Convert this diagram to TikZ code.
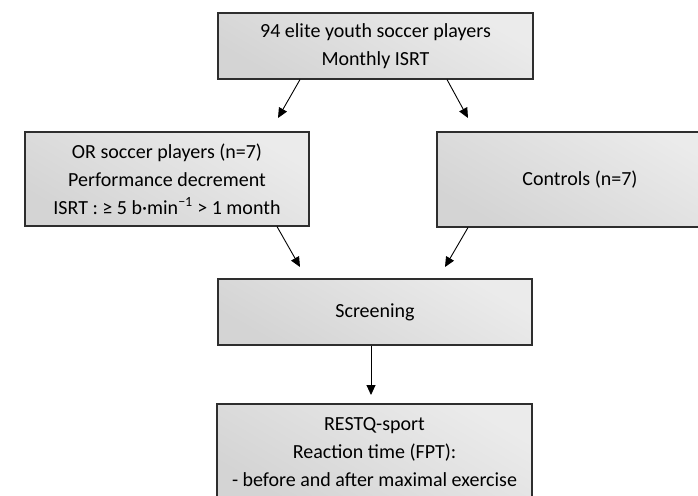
\documentclass[tikz,border=0pt]{standalone}
\usepackage{fontspec}
\setmainfont{Carlito}
\usetikzlibrary{arrows.meta}
\definecolor{boxdark}{HTML}{D4D4D4}
\definecolor{boxlight}{HTML}{EBEBEB}
\definecolor{boxline}{HTML}{2E2E2E}
\tikzset{
  flowbox/.style={draw=boxline, line width=1.1pt, bottom color=boxdark, top color=boxlight, shading angle=-30,
    align=center, inner sep=0pt, font=\fontsize{20}{28}\selectfont},
  arr/.style={-{Triangle[length=10pt,width=9pt]}, line width=0.9pt, black}
}
\begin{document}
\begin{tikzpicture}[x=1pt,y=1pt]
\useasboundingbox (0,0) rectangle (698,-495);
\node[flowbox, minimum width=315pt, minimum height=66pt] (top) at (375.5,-46) {94 elite youth soccer players\\Monthly ISRT};
\node[flowbox, minimum width=284pt, minimum height=94pt] (left) at (167,-179) {OR soccer players (n=7)\\Performance decrement\\ISRT : ≥ 5 b·min\textsuperscript{−1} > 1 month};
\node[flowbox, minimum width=286pt, minimum height=95pt] (right) at (580,-179.5) {Controls (n=7)};
\node[flowbox, minimum width=314pt, minimum height=66pt] (screen) at (375,-312) {Screening};
\node[flowbox, minimum width=315pt, minimum height=96pt] (bottom) at (374.5,-452) {RESTQ-sport\\Reaction time (FPT):\\- before and after maximal exercise};
\coordinate (e1) at (278,-118);
\coordinate (e2) at (468,-118);
\coordinate (e3) at (300,-267);
\coordinate (e4) at (445,-267);
\coordinate (e5) at (371,-395);
\draw[arr] ([xshift=-75.5pt]top.south) -- (e1);
\draw[arr] ([xshift=71.5pt]top.south) -- (e2);
\draw[arr] ([xshift=110pt]left.south) -- (e3);
\draw[arr] ([xshift=-112pt]right.south) -- (e4);
\draw[arr] ([xshift=-4pt]screen.south) -- (e5);
\end{tikzpicture}
\end{document}
